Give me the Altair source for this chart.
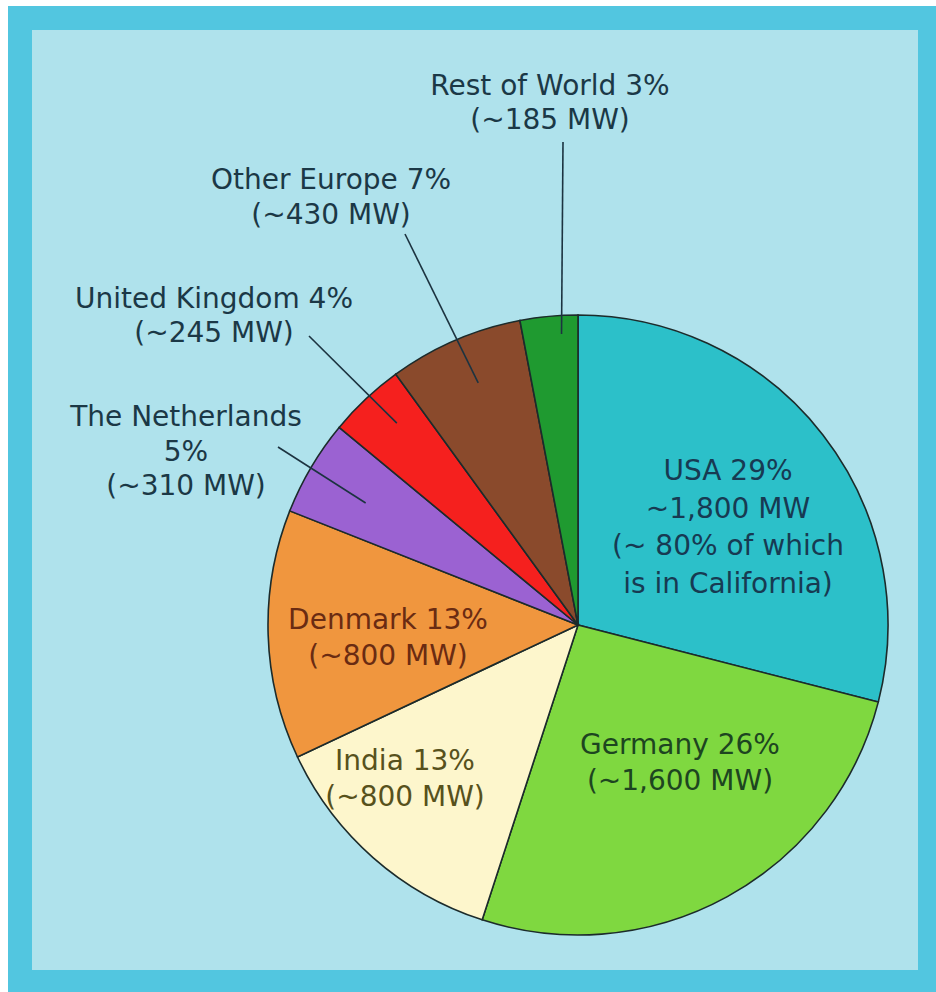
import math
import altair as alt
import pandas as pd

# ---- data ----
names = ["USA", "Germany", "India", "Denmark", "The Netherlands",
         "United Kingdom", "Other Europe", "Rest of World"]
pcts = [29, 26, 13, 13, 5, 4, 7, 3]
mw = ["~1,800 MW", "~1,600 MW", "~800 MW", "~800 MW", "~310 MW",
      "~245 MW", "~430 MW", "~185 MW"]
colors = ["#2cc0c9", "#7fd840", "#fdf6cc", "#f0963e", "#9b62d2",
          "#f5201e", "#8a4a2c", "#1f9a30"]

# label text lines (text content)
label_lines = {
    "USA": ["USA 29%", "~1,800 MW", "(~ 80% of which", "is in California)"],
    "Germany": ["Germany 26%", "(~1,600 MW)"],
    "India": ["India 13%", "(~800 MW)"],
    "Denmark": ["Denmark 13%", "(~800 MW)"],
    "The Netherlands": ["The Netherlands", "5%", "(~310 MW)"],
    "United Kingdom": ["United Kingdom 4%", "(~245 MW)"],
    "Other Europe": ["Other Europe 7%", "(~430 MW)"],
    "Rest of World": ["Rest of World 3%", "(~185 MW)"],
}

# ---- layout (positions / styles) ----
W, H = 936, 992
CX, CY, R = 578, 625, 310
label_layout = {  # name: (center x, first line y, line height, text color)
    "USA": (728, 472, 37.5, "#173a52"),
    "Germany": (680, 746, 36, "#1d4520"),
    "India": (405, 762, 36, "#57511c"),
    "Denmark": (388, 621, 36, "#6a2b12"),
    "The Netherlands": (186, 418, 34.5, "#1b3846"),
    "United Kingdom": (214, 300, 34, "#1b3846"),
    "Other Europe": (331, 181, 35, "#1b3846"),
    "Rest of World": (550, 87, 34, "#1b3846"),
}
leader_outer = {  # label-side end of leader lines
    "Rest of World": (563, 142),
    "Other Europe": (405, 234),
    "United Kingdom": (309, 336),
    "The Netherlands": (278, 447),
}
# inner end: (fraction of slice angle, fraction of radius)
leader_inner = {"Rest of World": (0.70, 0.94), "Other Europe": (0.54, 0.845),
                "United Kingdom": (0.59, 0.875), "The Netherlands": (0.46, 0.79)}

df = pd.DataFrame({"name": names, "pct": pcts, "mw": mw, "idx": range(len(names))})

# text rows
rows = []
for n in names:
    x0, y0, lh, col = label_layout[n]
    for i, t in enumerate(label_lines[n]):
        rows.append({"x": x0, "y": y0 + i * lh, "text": t, "color": col})
tdf = pd.DataFrame(rows)

# leader lines
cum = 0
lrows = []
for n, p in zip(names, pcts):
    if n in leader_outer:
        af, rf = leader_inner[n]
        a = (cum + p * af) / 100 * 2 * math.pi
        r = R * rf
        ox, oy = leader_outer[n]
        lrows.append({"x": ox, "y": oy,
                      "x2": CX + r * math.sin(a), "y2": CY - r * math.cos(a)})
    cum += p
ldf = pd.DataFrame(lrows)

one = alt.Data(values=[{}])
outer = alt.Chart(one).mark_rect(color="#52c6e0").encode(
    x=alt.value(8), x2=alt.value(936), y=alt.value(6), y2=alt.value(992))
inner = alt.Chart(one).mark_rect(color="#afe2ec").encode(
    x=alt.value(32), x2=alt.value(918), y=alt.value(30), y2=alt.value(970))

pie = alt.Chart(df).mark_arc(outerRadius=R, stroke="#1c2b2b", strokeWidth=1.6).encode(
    theta=alt.Theta("pct:Q", stack=True),
    color=alt.Color("name:N", scale=alt.Scale(domain=names, range=colors), legend=None),
    order=alt.Order("idx:Q"),
    x=alt.value(CX), y=alt.value(CY),
)

leaders = alt.Chart(ldf).mark_rule(color="#1c3340", strokeWidth=1.6).encode(
    x=alt.X("x:Q", scale=None), y=alt.Y("y:Q", scale=None),
    x2="x2:Q", y2="y2:Q")

texts = alt.Chart(tdf).mark_text(font="DejaVu Sans", fontSize=28, align="center",
                                 baseline="middle").encode(
    x=alt.X("x:Q", scale=None), y=alt.Y("y:Q", scale=None),
    text="text:N", color=alt.Color("color:N", scale=None))

chart = alt.layer(outer, inner, pie, leaders, texts).properties(
    width=W, height=H, padding=0, autosize=alt.AutoSizeParams(type="none"),
    background="white",
).configure_view(stroke=None)

chart.save("out.html", embed_options={"renderer": "svg", "actions": False})
